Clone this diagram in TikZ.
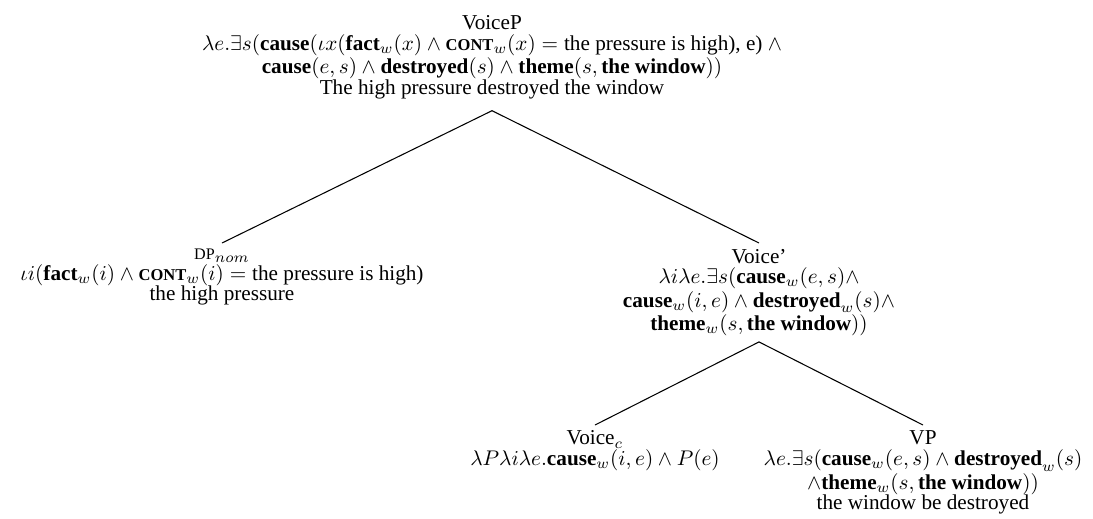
\documentclass[tikz,border=0pt]{standalone}
\usepackage[no-math]{fontspec}
\setmainfont{Liberation Serif}
\newcommand{\fsc}[1]{{\fontsize{7.6}{9}\selectfont #1}}
\newcommand{\bsc}[1]{{\fontsize{7.8}{9}\selectfont\bfseries #1}}
\newcommand{\tb}[1]{\textbf{#1}}
\begin{document}
\begin{tikzpicture}[x=0.4717pt,y=-0.4717pt,
  tn/.style={align=center, inner xsep=0pt, inner ysep=2.6pt, anchor=north,
    font=\fontsize{10}{9.75}\selectfont},
  edge/.style={draw=black, line width=0.5pt}]
\useasboundingbox (0,0) rectangle (1093,518);
\node[tn, anchor=south, inner ysep=5.4pt] (voicep) at (492,110.7) {VoiceP\\
$\lambda e.\exists s(\tb{cause}(\iota x(\tb{fact}_w(x)\wedge \mbox{\bsc{CONT}}_w(x) = \mbox{the pressure is high), e)}$ $\wedge$\\
$\tb{cause}(e,s)\wedge\tb{destroyed}(s)\wedge\tb{theme}(s,\tb{the window}))$\\
The high pressure destroyed the window};
\node[tn] (dp) at (222,243) {\fsc{DP}$_{nom}$\\
$\iota i(\tb{fact}_w(i)\wedge\mbox{\bsc{CONT}}_w(i) = \mbox{the pressure is high)}$\\
the high pressure};
\node[tn] (vbar) at (759,243) {Voice'\\
$\lambda i\lambda e.\exists s(\tb{cause}_w(e,s)\wedge$\\
$\tb{cause}_w(i,e)\wedge\tb{destroyed}_w(s)\wedge$\\
$\tb{theme}_w(s,\tb{the window}))$};
\node[tn] (voicec) at (595,425) {Voice$_c$\\
$\lambda P\lambda i\lambda e.\tb{cause}_w(i,e)\wedge P(e)$};
\node[tn] (vp) at (923,425) {VP\\
$\lambda e.\exists s(\tb{cause}_w(e,s)\wedge\tb{destroyed}_w(s)$\\
$\wedge\tb{theme}_w(s,\tb{the window}))$\\
the window be destroyed};
\draw[edge] (voicep.south) -- (dp.north);
\draw[edge] (voicep.south) -- (vbar.north);
\draw[edge] (vbar.south) -- (voicec.north);
\draw[edge] (vbar.south) -- (vp.north);
\end{tikzpicture}
\end{document}
